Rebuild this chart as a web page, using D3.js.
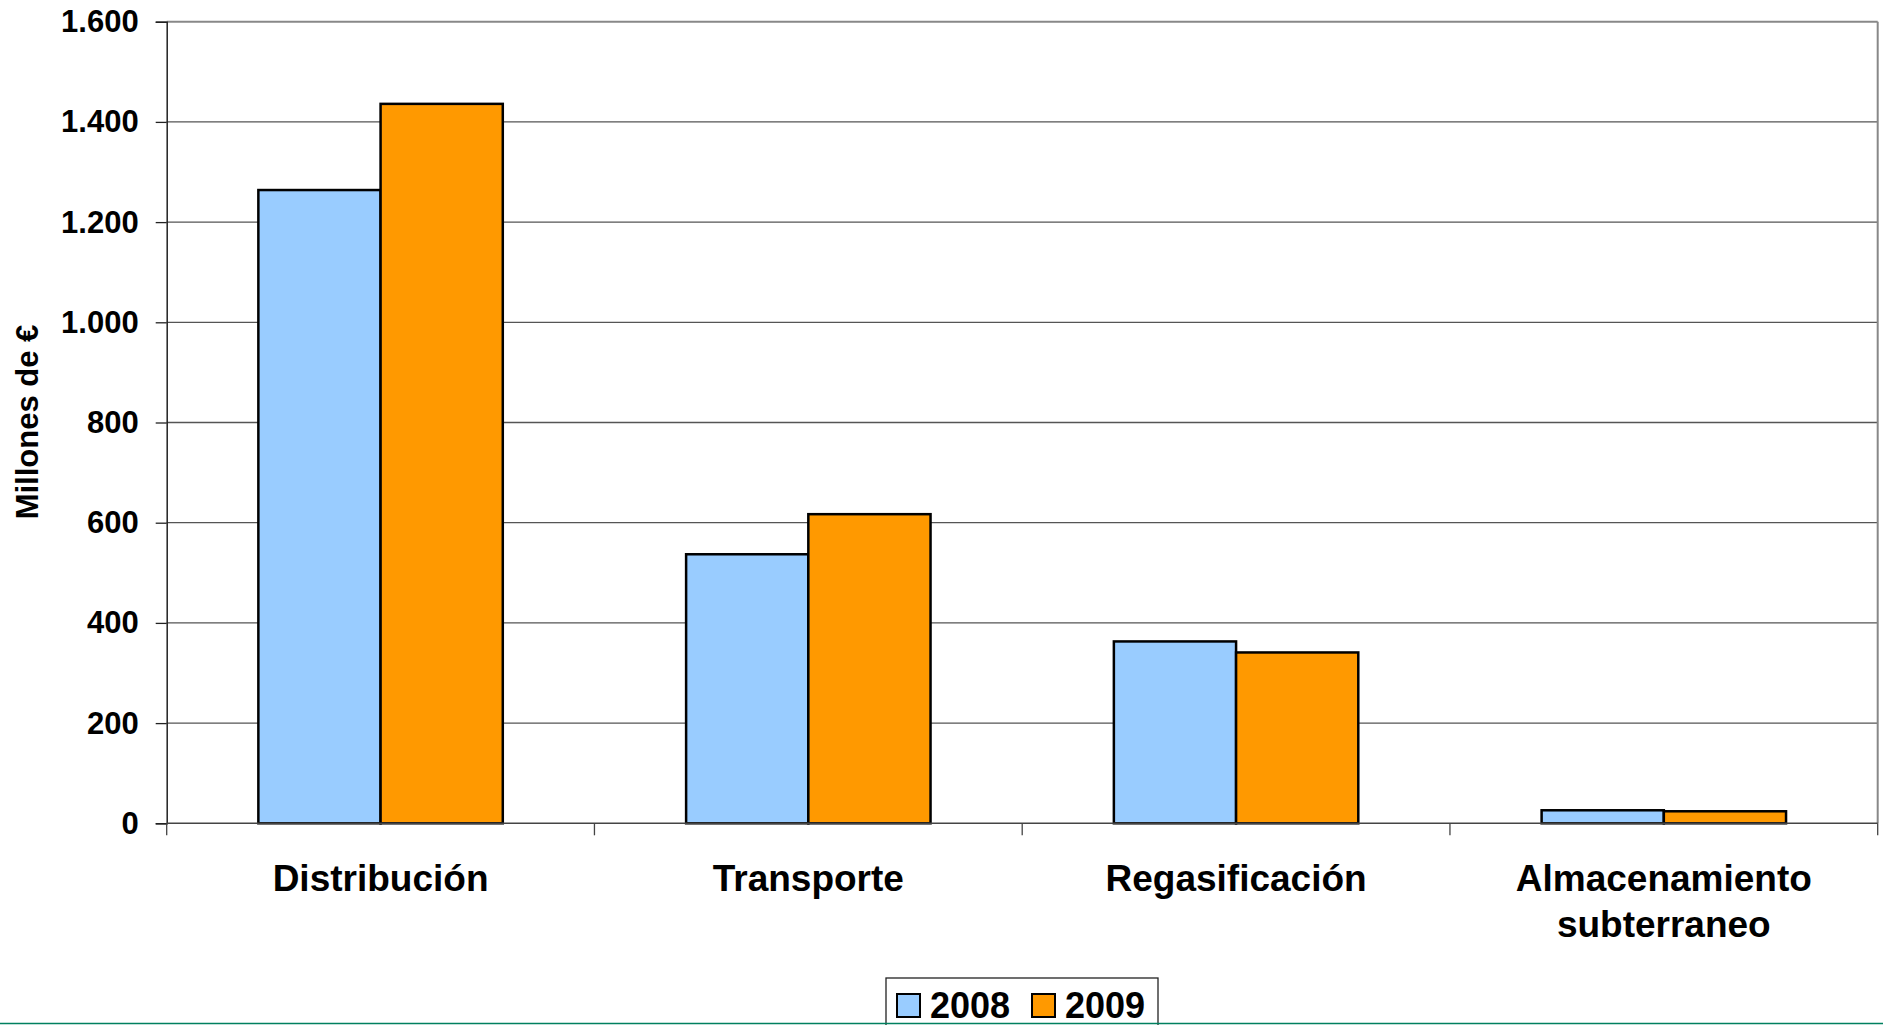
<!DOCTYPE html>
<html>
<head>
<meta charset="utf-8">
<script src="https://cdn.jsdelivr.net/npm/d3@7"></script>
<style>
  body { margin: 0; background: #fff; }
  svg { display: block; font-family: "Liberation Sans", Arial, sans-serif; font-weight: bold; }
</style>
</head>
<body>
<div id="chart"></div>
<script>
var categories = ["Distribución", "Transporte", "Regasificación", "Almacenamiento subterraneo"];
var categoryLines = [["Distribución"], ["Transporte"], ["Regasificación"], ["Almacenamiento", "subterraneo"]];
var series = ["2008", "2009"];
var values2008 = [1264, 537, 363, 26];
var values2009 = [1436, 617, 341, 24];
var yTicks = [0, 200, 400, 600, 800, 1000, 1200, 1400, 1600];
var colors = ["#99CCFF", "#FF9900"];

var svgWidth = 1883;
var svgHeight = 1025;

var plot = { left: 166.7, right: 1877.7, top: 21.7, bottom: 823.3 };

var svg = d3.select("#chart")
  .append("svg")
  .attr("width", svgWidth)
  .attr("height", svgHeight);

svg.append("rect")
  .attr("width", svgWidth)
  .attr("height", svgHeight)
  .attr("fill", "#fff");

var data = categories.map(function(c, i) {
  return { cat: c, vals: [values2008[i], values2009[i]] };
});

// scales
var y = d3.scaleLinear()
  .domain([0, 1600])
  .range([plot.bottom, plot.top]);

var x0 = d3.scaleBand()
  .domain(categories)
  .range([plot.left, plot.right])
  .paddingInner(1.5 / 3.5)
  .paddingOuter(0.75 / 3.5);

var x1 = d3.scaleBand()
  .domain(series)
  .range([0, x0.bandwidth()]);

var locale = d3.formatLocale({ decimal: ",", thousands: ".", grouping: [3], currency: ["", "€"] });
var fmt = locale.format(",");

// gridlines
svg.append("g")
  .selectAll("line")
  .data(yTicks.slice(1))
  .enter()
  .append("line")
  .attr("x1", plot.left)
  .attr("x2", plot.right)
  .attr("y1", d => y(d))
  .attr("y2", d => y(d))
  .attr("stroke", d => d === 1600 ? "#888" : "#555")
  .attr("stroke-width", d => d === 1600 ? 2 : 1.3);

// right border of plot area
svg.append("line")
  .attr("x1", plot.right)
  .attr("x2", plot.right)
  .attr("y1", plot.top)
  .attr("y2", plot.bottom)
  .attr("stroke", "#888")
  .attr("stroke-width", 2);

// bars
var groups = svg.append("g")
  .selectAll("g")
  .data(data)
  .enter()
  .append("g")
  .attr("transform", d => `translate(${x0(d.cat)},0)`);

groups.selectAll("rect")
  .data(d => d.vals.map((v, i) => ({ s: series[i], v: v, i: i })))
  .enter()
  .append("rect")
  .attr("x", d => x1(d.s))
  .attr("y", d => y(d.v))
  .attr("width", x1.bandwidth())
  .attr("height", d => y(0) - y(d.v))
  .attr("fill", d => colors[d.i])
  .attr("stroke", "#000")
  .attr("stroke-width", 2.5);

// y axis
var yAxis = d3.axisLeft(y)
  .tickValues(yTicks)
  .tickFormat(fmt)
  .tickSize(11)
  .tickPadding(17);

var yg = svg.append("g")
  .attr("transform", `translate(${plot.left},0)`)
  .call(yAxis);
yg.select(".domain").attr("stroke", "#222").attr("stroke-width", 1.5);
yg.selectAll(".tick line").attr("stroke", "#222").attr("stroke-width", 1.3);
yg.selectAll(".tick text")
  .attr("fill", "#000")
  .style("font-family", "'Liberation Sans', Arial, sans-serif")
  .style("font-weight", "bold")
  .style("font-size", "31px");

// x axis line and category ticks
svg.append("line")
  .attr("x1", plot.left)
  .attr("x2", plot.right)
  .attr("y1", plot.bottom)
  .attr("y2", plot.bottom)
  .attr("stroke", "#444")
  .attr("stroke-width", 1.5);

var step = x0.step();
var boundaries = categories.map(c => x0(c) + x0.bandwidth() / 2 - step / 2);
boundaries.push(plot.right);

svg.append("g")
  .selectAll("line")
  .data(boundaries)
  .enter()
  .append("line")
  .attr("x1", d => d)
  .attr("x2", d => d)
  .attr("y1", plot.bottom)
  .attr("y2", plot.bottom + 12)
  .attr("stroke", "#444")
  .attr("stroke-width", 1.3);

// category labels
var catLabels = svg.append("g")
  .selectAll("text")
  .data(categories)
  .enter()
  .append("text")
  .attr("x", d => x0(d) + x0.bandwidth() / 2)
  .attr("y", 891)
  .attr("text-anchor", "middle")
  .style("font-size", "37px")
  .attr("fill", "#000");

catLabels.each(function(d, i) {
  var t = d3.select(this);
  categoryLines[i].forEach(function(line, j) {
    t.append("tspan")
      .attr("x", x0(d) + x0.bandwidth() / 2)
      .attr("dy", j === 0 ? 0 : 46)
      .text(line);
  });
});

// y axis title
svg.append("text")
  .attr("transform", `translate(38, 422) rotate(-90)`)
  .attr("text-anchor", "middle")
  .style("font-size", "31px")
  .attr("fill", "#000")
  .text("Millones de €");

// legend
var legend = svg.append("g");
legend.append("rect")
  .attr("x", 886)
  .attr("y", 978)
  .attr("width", 272)
  .attr("height", 70)
  .attr("fill", "#fff")
  .attr("stroke", "#222")
  .attr("stroke-width", 1.3);

var legendX = [897, 1032];
series.forEach(function(s, i) {
  legend.append("rect")
    .attr("x", legendX[i])
    .attr("y", 994)
    .attr("width", 23)
    .attr("height", 23)
    .attr("fill", colors[i])
    .attr("stroke", "#000")
    .attr("stroke-width", 2);
  legend.append("text")
    .attr("x", legendX[i] + 33)
    .attr("y", 1018)
    .style("font-size", "36px")
    .attr("fill", "#000")
    .text(s);
});

// bottom slide rule
svg.append("line")
  .attr("x1", 0)
  .attr("x2", svgWidth)
  .attr("y1", 1023.5)
  .attr("y2", 1023.5)
  .attr("stroke", "#00805F")
  .attr("stroke-width", 1.5);
</script>
</body>
</html>
